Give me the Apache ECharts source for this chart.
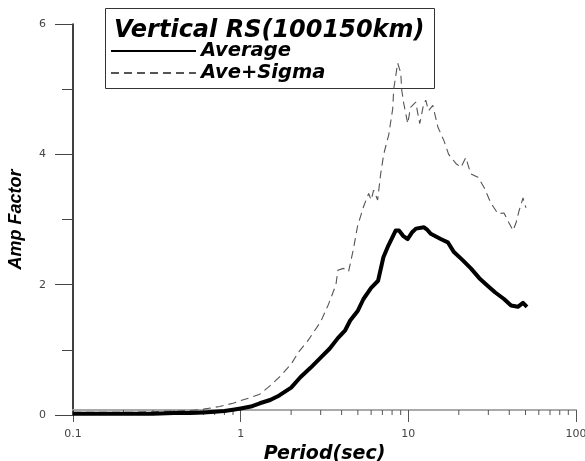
<!DOCTYPE html>
<html>
<head>
<meta charset="utf-8">
<script src="https://cdn.jsdelivr.net/npm/echarts@6/dist/echarts.min.js"></script>
<style>html,body{margin:0;padding:0;background:#fff}#c{width:585px;height:461px}</style>
</head>
<body>
<div id="c"></div>
<script>
const titleText = 'Vertical RS(100150km)';
const seriesNames = ['Average', 'Ave+Sigma'];
const xTickLabels = ['0.1', '1', '10', '100'];
const xMinorTicks = [0.2,0.3,0.4,0.5,0.6,0.7,0.8,0.9,2,3,4,5,6,7,8,9,20,30,40,50,60,70,80,90];

const avgPeriod = [0.1,0.2,0.3,0.4,0.5,0.6,0.7,0.8,0.9,1.0,1.15,1.3,1.5,1.7,2.0,2.27,2.6,3.0,3.4,3.8,4.2,4.5,5.0,5.4,6.0,6.6,7.1,7.6,8.4,8.8,9.3,9.9,10.5,11.1,12.4,13.0,13.6,15.6,17.2,18.7,21,23.6,26.5,29.8,33,37.2,41,45,48.3,51];
const avgValue  = [0.02,0.02,0.02,0.03,0.03,0.04,0.05,0.06,0.08,0.1,0.13,0.18,0.23,0.3,0.42,0.58,0.72,0.88,1.02,1.18,1.3,1.45,1.6,1.78,1.95,2.06,2.42,2.6,2.83,2.83,2.75,2.7,2.8,2.86,2.88,2.84,2.78,2.7,2.65,2.5,2.38,2.25,2.1,1.98,1.88,1.78,1.68,1.66,1.72,1.66];

const sigPeriod = [0.1,0.2,0.3,0.4,0.5,0.6,0.75,0.9,1.0,1.15,1.3,1.5,1.73,2.0,2.22,2.5,3.0,3.33,3.7,3.8,4.1,4.4,4.7,4.98,5.41,5.8,6.0,6.21,6.56,6.84,7.13,7.64,8.07,8.18,8.64,9.01,9.14,9.39,9.92,10.3,11.07,11.4,11.7,12.36,12.7,13.2,14.0,15.0,16.3,17.4,19.2,20.6,22.0,23.6,26.0,28.2,31.1,34.2,37.2,39.8,42.1,43.9,45.7,48.3,50.3];
const sigValue  = [0.04,0.04,0.05,0.06,0.07,0.09,0.13,0.18,0.22,0.27,0.32,0.45,0.6,0.78,0.97,1.13,1.43,1.69,2.0,2.22,2.25,2.2,2.54,2.9,3.2,3.4,3.3,3.45,3.3,3.7,4.0,4.3,4.7,5.0,5.4,5.25,4.98,4.78,4.47,4.72,4.8,4.62,4.47,4.78,4.83,4.67,4.75,4.42,4.21,4.0,3.86,3.8,3.95,3.7,3.65,3.5,3.25,3.09,3.1,2.95,2.83,2.95,3.13,3.33,3.18];

const zip = (a, b) => a.map((v, i) => [v, b[i]]);
const chart = echarts.init(document.getElementById('c'), null, {renderer: 'canvas'});
const boldItalic = {fontFamily: 'DejaVu Sans', fontWeight: 'bold', fontStyle: 'italic', color: '#000'};

chart.setOption({
  animation: false,
  backgroundColor: '#fff',
  grid: {left: 73, right: 9, top: 24, bottom: 46, containLabel: false, outerBoundsMode: 'none'},
  title: {
    text: titleText, left: 114, top: 19, padding: 0,
    textStyle: Object.assign({}, boldItalic, {fontSize: 24})
  },
  graphic: [{
    type: 'rect', z: 0, silent: true,
    shape: {x: 105.5, y: 8.5, width: 329, height: 80},
    style: {fill: 'none', stroke: '#333', lineWidth: 1}
  }],
  legend: {
    orient: 'vertical', left: 110, top: 41, padding: 0,
    itemWidth: 85, itemHeight: 14, itemGap: 2,
    data: seriesNames,
    itemStyle: {opacity: 0},
    textStyle: Object.assign({}, boldItalic, {fontSize: 19.5, lineHeight: 14})
  },
  xAxis: {
    type: 'log', logBase: 10, min: 0.1, max: 100, offset: -5,
    name: 'Period(sec)', nameLocation: 'middle', nameGap: 31,
    nameTextStyle: Object.assign({}, boldItalic, {fontSize: 19}),
    axisLine: {lineStyle: {color: '#aaa', width: 2}},
    axisTick: {length: 12, lineStyle: {color: '#555', width: 1}},
    axisLabel: {
      color: '#444', fontSize: 11, fontFamily: 'DejaVu Sans', margin: 19,
      formatter: v => { const s = xTickLabels.find(t => Math.abs(parseFloat(t) - v) < 1e-9 * Math.max(1, v)); return s || ''; }
    },
    splitLine: {show: false}
  },
  yAxis: {
    type: 'value', min: 0, max: 6, interval: 2,
    name: 'Amp Factor', nameLocation: 'middle', nameGap: 48, nameRotate: 90,
    nameTextStyle: {fontFamily: 'Liberation Sans', fontWeight: 'bold', fontStyle: 'italic', fontSize: 18, color: '#000'},
    axisLine: {lineStyle: {color: '#000', width: 1.5}},
    axisTick: {length: 18, lineStyle: {color: '#444', width: 1}},
    minorTick: {show: true, splitNumber: 2, length: 11, lineStyle: {color: '#444', width: 1}},
    axisLabel: {color: '#444', fontSize: 11, fontFamily: 'DejaVu Sans', margin: 27},
    splitLine: {show: false}
  },
  series: [
    {
      name: seriesNames[0], type: 'line', data: zip(avgPeriod, avgValue),
      showSymbol: false, symbol: 'none', z: 3,
      lineStyle: {color: '#000', width: 4, join: 'round'}, itemStyle: {color: '#000'}
    },
    {
      name: seriesNames[1], type: 'line', data: zip(sigPeriod, sigValue),
      showSymbol: false, symbol: 'none', z: 2,
      lineStyle: {color: '#555', width: 1.1, type: [8, 5]}, itemStyle: {color: '#555'}
    },
    {
      type: 'custom', silent: true, z: 1,
      data: xMinorTicks.map(t => [t, 0]),
      renderItem: (params, api) => {
        const p = api.coord([api.value(0), 0]);
        return {type: 'line', shape: {x1: p[0], y1: p[1] - 5, x2: p[0], y2: p[1]}, style: {stroke: '#555', lineWidth: 1}};
      }
    }
  ]
});
</script>
</body>
</html>
